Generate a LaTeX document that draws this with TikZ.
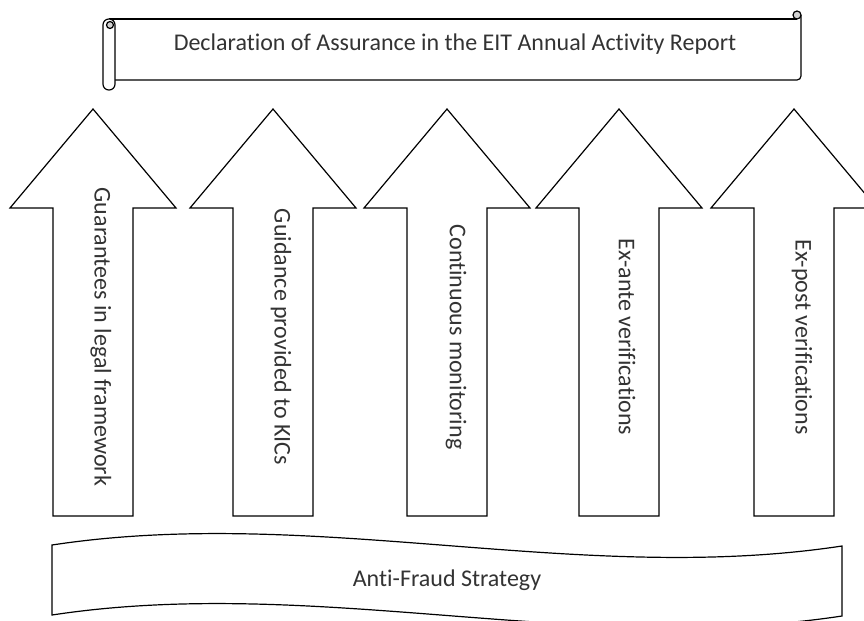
\documentclass[tikz,border=0pt]{standalone}
\usepackage{fontspec}
\setmainfont{Carlito}[Ligatures=NoCommon]
\begin{document}
\begin{tikzpicture}[x=0.75pt,y=-0.75pt,
    shape_line/.style={draw=black,line width=0.9pt,line join=miter,fill=white},
    curl_line/.style={draw=black,line width=0.9pt,fill=gray!35},
    label_text/.style={text=black!80,font=\fontsize{18}{21.6}\selectfont,inner sep=0pt},
    pillar_text/.style={label_text,rotate=-90}]

    \clip (0,0) rectangle (864,621);

    % scroll at the top
    \draw[shape_line] (109,19) -- (797,19);
    \draw[shape_line,fill=none,rounded corners=3pt] (801,15) -- (801,80) -- (113,80);
    \draw[curl_line] (797,15) circle[radius=4];
    \draw[shape_line,rounded corners=4.4pt] (103,19) rectangle (115,90);
    \draw[curl_line] (110,25) circle[radius=3.5];
    \node[label_text] (title) at (455,44) {Declaration of Assurance in the EIT Annual Activity Report};

    % pillars
    \draw[shape_line] (53,516) -- (53,208) -- (10,208) -- (93,109) -- (176,208) -- (133,208) -- (133,516) -- cycle;
    \draw[shape_line] (233,516) -- (233,208) -- (190,208) -- (273,109) -- (356,208) -- (313,208) -- (313,516) -- cycle;
    \draw[shape_line] (407,516) -- (407,208) -- (364,208) -- (447,109) -- (530,208) -- (487,208) -- (487,516) -- cycle;
    \draw[shape_line] (579,516) -- (579,208) -- (536,208) -- (619,109) -- (702,208) -- (659,208) -- (659,516) -- cycle;
    \draw[shape_line] (754,516) -- (754,208) -- (711,208) -- (794,109) -- (877,208) -- (834,208) -- (834,516) -- cycle;

    \node[pillar_text] (1) at (101,337) {Guarantees in legal framework};
    \node[pillar_text] (2) at (281,337) {Guidance provided to KICs};
    \node[pillar_text] (3) at (456,337) {Continuous monitoring};
    \node[pillar_text] (4) at (627,337) {Ex-ante verifications};
    \node[pillar_text] (5) at (802,337) {Ex-post verifications};

    % wave at the bottom
    \draw[shape_line] (52,545) .. controls (315,505) and (579,586) .. (842,546) -- (842,616) .. controls (579,656) and (315,575) .. (52,615) -- cycle;
    \node[label_text] (base) at (447,580) {Anti-Fraud Strategy};
\end{tikzpicture}
\end{document}
